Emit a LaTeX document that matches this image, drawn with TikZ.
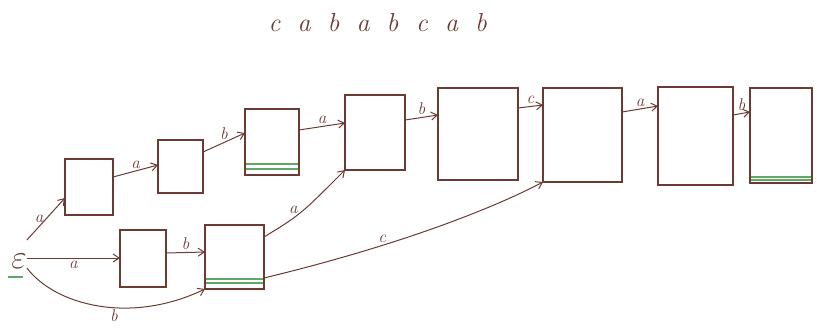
\documentclass[tikz,border=0pt]{standalone}
\usepackage{fontspec}
\usepackage{graphicx}
\usetikzlibrary{arrows.meta}
\definecolor{ink}{HTML}{6B3A33}
\definecolor{mark}{HTML}{5FA865}
\begin{document}
\begin{tikzpicture}[x=1pt,y=-1pt,
  state/.style={draw=ink, line width=1.1pt, inner sep=0pt, outer sep=0pt},
  arr/.style={draw=ink, line width=1pt, -{Straight Barb[length=6pt,width=8pt]}},
  lab/.style={text=ink, font=\itshape\fontsize{17}{17}\selectfont, inner sep=2pt},
  word/.style={text=ink, font=\itshape\fontsize{26}{26}\selectfont, inner sep=0pt},
  final/.style={draw=mark, line width=1.2pt}]
\useasboundingbox (0,0) rectangle (817,327);

% the word being read
\foreach \ch [count=\i] in {c,a,b,a,b,c,a,b} {
  \node[word, anchor=base] (w\i) at ({245+29.5*\i},31) {\ch};
}

% start state
\node[text=ink, inner sep=0pt, font=\fontsize{24}{24}\selectfont] (eps) at (19,261) {\scalebox{1.35}{$\varepsilon$}};
\draw[final] (8,277) -- (23,277);

% states of the upper chain
\node[state, minimum width=48, minimum height=56] (b1) at (89,187) {};
\node[state, minimum width=45, minimum height=53] (b2) at (180.5,166.5) {};
\node[state, minimum width=54, minimum height=66] (b3) at (272,142) {};
\node[state, minimum width=60, minimum height=75] (b4) at (375,132.5) {};
\node[state, minimum width=80, minimum height=92] (b5) at (478,134) {};
\node[state, minimum width=79, minimum height=94] (b6) at (582.5,135) {};
\node[state, minimum width=75, minimum height=98] (b7) at (695.5,136) {};
\node[state, minimum width=62, minimum height=95] (b8) at (781,135.5) {};
% states of the lower chain
\node[state, minimum width=46, minimum height=57] (b9) at (143,258.5) {};
\node[state, minimum width=59, minimum height=64] (b10) at (234.5,257) {};

% accepting marks along the bottom edges
\draw[final] ([xshift=1pt,yshift=11pt]b3.south west) -- ([xshift=-1pt,yshift=11pt]b3.south east);
\draw[final] ([xshift=1pt,yshift=6pt]b3.south west) -- ([xshift=-1pt,yshift=6pt]b3.south east);
\draw[final] ([xshift=1pt,yshift=10pt]b10.south west) -- ([xshift=-1pt,yshift=10pt]b10.south east);
\draw[final] ([xshift=1pt,yshift=6pt]b10.south west) -- ([xshift=-1pt,yshift=6pt]b10.south east);
\draw[final] ([xshift=1pt,yshift=6pt]b8.south west) -- ([xshift=-1pt,yshift=6pt]b8.south east);
\draw[final] ([xshift=1pt,yshift=3pt]b8.south west) -- ([xshift=-1pt,yshift=3pt]b8.south east);

% transitions out of the start state
\draw[arr] (eps.east |- 0,240) -- (b1.west |- 0,198) node[lab, midway, left] {a};
\draw[arr] (eps.east |- 0,258) -- (b9.west |- 0,258) node[lab, midway, below] {a};
\draw[arr] (eps.east |- 0,268) .. controls (55,305) and (130,325) .. (b10.south west) node[lab, pos=0.58, below] {b};

% upper chain
\draw[arr] (b1.east |- 0,177) -- (b2.west |- 0,165) node[lab, midway, above] {a};
\draw[arr] (b2.east |- 0,152) -- (b3.west |- 0,133) node[lab, midway, above] {b};
\draw[arr] (b3.east |- 0,130) -- (b4.west |- 0,123) node[lab, midway, above] {a};
\draw[arr] (b4.east |- 0,120) -- (b5.west |- 0,115) node[lab, midway, above] {b};
\draw[arr] (b5.east |- 0,108) -- (b6.west |- 0,105) node[lab, midway, above] {c};
\draw[arr] (b6.east |- 0,112) -- (b7.west |- 0,106) node[lab, midway, above] {a};
\draw[arr] (b7.east |- 0,115) -- (b8.west |- 0,112) node[lab, midway, above] {b};

% lower chain and its links upward
\draw[arr] (b9.east |- 0,253) -- (b10.west |- 0,252) node[lab, midway, above] {b};
\draw[arr] (b10.east |- 0,237) .. controls (300,215) .. (b4.south west) node[lab, pos=0.45, above left=-2pt] {a};
\draw[arr] (b10.east |- 0,278) .. controls (380,250) and (480,215) .. (b6.south west) node[lab, pos=0.36, above] {c};
\end{tikzpicture}
\end{document}
